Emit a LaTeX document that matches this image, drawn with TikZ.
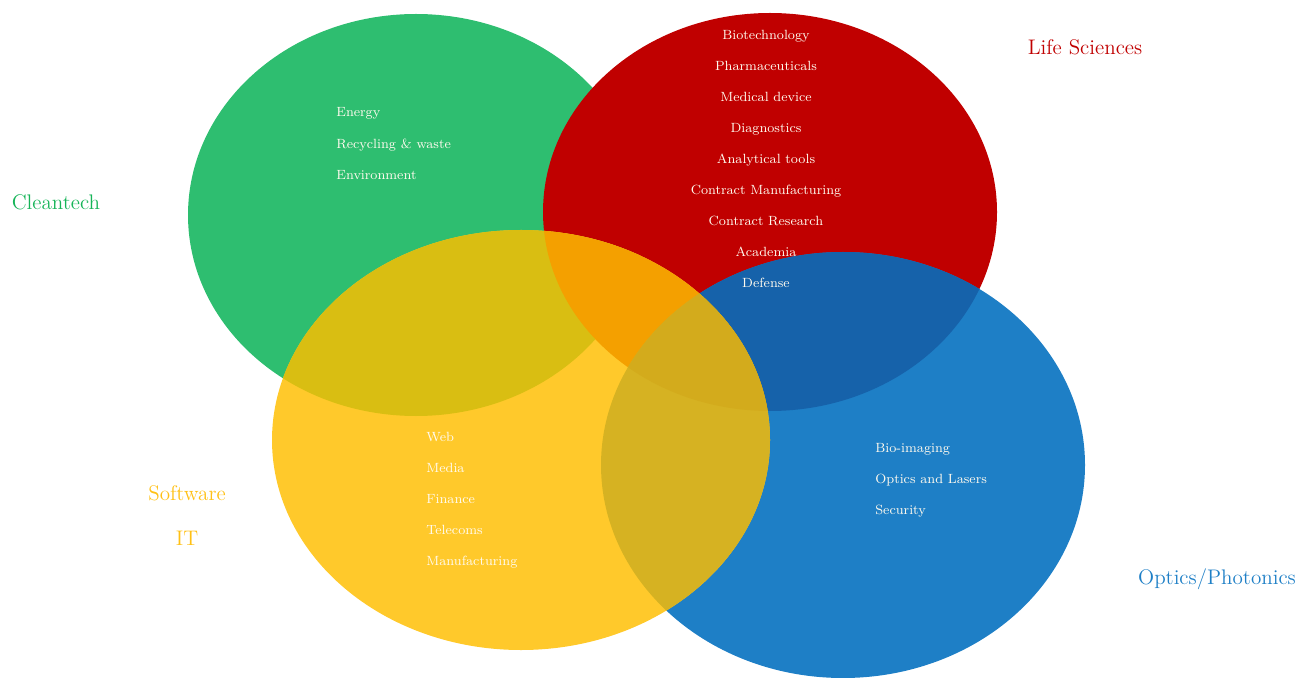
\documentclass[tikz,border=0pt]{standalone}
\usetikzlibrary{positioning}
\definecolor{cleangreen}{RGB}{46,190,112}
\definecolor{lifered}{RGB}{192,0,0}
\definecolor{softyellow}{RGB}{255,201,43}
\definecolor{opticblue}{RGB}{30,127,198}
\definecolor{olivemix}{RGB}{217,190,18}
\definecolor{orangemix}{RGB}{244,160,0}
\definecolor{navymix}{RGB}{22,98,170}
\definecolor{mustardmix}{RGB}{214,178,34}
\definecolor{ochremix}{RGB}{211,171,28}
\definecolor{ivory}{RGB}{255,250,238}
\definecolor{labelgreen}{RGB}{22,180,88}
\definecolor{labelyellow}{RGB}{255,192,20}

\begin{document}
\begin{tikzpicture}[x=0.02cm,y=-0.02cm,
    greenell/.style={insert path={(416,215) ellipse [x radius=228, y radius=201]}},
    redell/.style={insert path={(770,212) ellipse [x radius=227, y radius=199]}},
    yellowell/.style={insert path={(521,440) ellipse [x radius=249, y radius=210]}},
    blueell/.style={insert path={(843,465) ellipse [x radius=242, y radius=213]}},
    item/.style={text=ivory, font=\fontsize{7.6}{9}\selectfont, inner sep=0pt,
      text height=1.6ex, text depth=0.4ex},
    field/.style={font=\fontsize{12}{14}\selectfont, inner sep=0pt}]
  \useasboundingbox (0,0) rectangle (1310,678);
  %
  % the four sectors
  \fill[cleangreen, greenell];
  \fill[lifered, redell];
  \fill[opticblue, blueell];
  \fill[softyellow, yellowell];
  %
  % overlaps
  \begin{scope}
    \clip[yellowell];
    \fill[olivemix, greenell];
  \end{scope}
  \begin{scope}
    \clip[redell];
    \fill[navymix, blueell];
  \end{scope}
  \begin{scope}
    \clip[yellowell];
    \fill[orangemix, redell];
    \fill[mustardmix, blueell];
    \clip[redell];
    \fill[ochremix, blueell];
  \end{scope}
  %
  % sector names
  \node[field, text=labelgreen] (cleantech) at (56,202) {Cleantech};
  \node[field, text=lifered] (lifesci) at (1085,47) {Life Sciences};
  \node[field, text=labelyellow] (software) at (187,493) {Software};
  \node[field, text=labelyellow] (it) at (187,538) {IT};
  \node[field, text=opticblue] (optics) at (1217,579) {Optics/Photonics};
  %
  % what each sector covers
  \foreach \t [count=\i] in {Energy, Recycling \& waste, Environment}
    \node[item, anchor=west] (ct\i) at (336,{112+31.5*(\i-1)}) {\t};
  \foreach \t [count=\i] in {Biotechnology, Pharmaceuticals, Medical device,
      Diagnostics, Analytical tools, Contract Manufacturing, Contract Research,
      Academia, Defense}
    \node[item] (ls\i) at (766,{35+31*(\i-1)}) {\t};
  \foreach \t [count=\i] in {Web, Media, Finance, Telecoms, Manufacturing}
    \node[item, anchor=west] (sw\i) at (426,{437+31*(\i-1)}) {\t};
  \foreach \t [count=\i] in {Bio-imaging, Optics and Lasers, Security}
    \node[item, anchor=west] (op\i) at (875,{448+31*(\i-1)}) {\t};
\end{tikzpicture}
\end{document}
